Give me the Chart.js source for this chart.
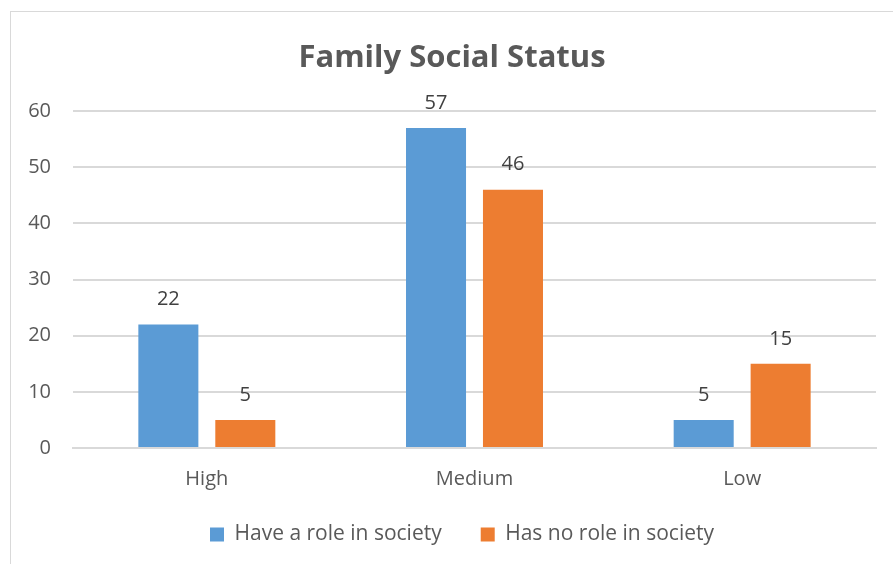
<!DOCTYPE html>
<html>
<head>
<meta charset="utf-8">
<script src="https://cdn.jsdelivr.net/npm/chart.js@4"></script>
<style>
  body { margin: 0; background: #fff; overflow: hidden; }
  #frame { position: absolute; left: 10px; top: 11px; width: 900px; height: 570px; border: 1px solid #d9d9d9; }
</style>
</head>
<body>
<div id="frame"><canvas id="myChart" width="900" height="570"></canvas></div>
<script>
const categories = ['High', 'Medium', 'Low'];
const haveRole = [22, 57, 5];
const noRole = [5, 46, 15];
const yTicks = [0, 10, 20, 30, 40, 50, 60];

const textColor = '#595959';
const fontFamily = "'Open Sans', 'Noto Sans', sans-serif";

// draw the value above every bar
const barLabels = {
    id: 'barLabels',
    afterDatasetsDraw(chart) {
        const c = chart.ctx;
        c.save();
        c.font = '20px ' + fontFamily;
        c.fillStyle = '#404040';
        c.textAlign = 'center';
        c.textBaseline = 'middle';
        chart.data.datasets.forEach((ds, i) => {
            chart.getDatasetMeta(i).data.forEach((bar, j) => {
                c.fillText(ds.data[j], bar.x, bar.y - 25);
            });
        });
        c.restore();
    }
};

// nudge the legend closer to the axis labels and a bit to the right
const legendShift = {
    id: 'legendShift',
    afterLayout(chart) {
        chart.legend.top -= 9;
        chart.legend.bottom -= 9;
        chart.legend.left += 10;
        chart.legend.right += 10;
    }
};

new Chart(document.getElementById('myChart'), {
    type: 'bar',
    data: {
        labels: categories,
        datasets: [{
            label: 'Have a role in society',
            data: haveRole,
            backgroundColor: '#5b9bd5',
            categoryPercentage: 0.575,
            barPercentage: 0.78
        }, {
            label: 'Has no role in society',
            data: noRole,
            backgroundColor: '#ed7d31',
            categoryPercentage: 0.575,
            barPercentage: 0.78
        }]
    },
    options: {
        responsive: false,
        animation: false,
        layout: { padding: { left: 17, right: 35, top: 28, bottom: 18 } },
        plugins: {
            title: {
                display: true,
                text: 'Family Social Status',
                color: textColor,
                font: { family: fontFamily, size: 31, weight: 'bold' },
                padding: { top: 0, bottom: 34 }
            },
            legend: {
                position: 'bottom',
                labels: {
                    color: textColor,
                    boxWidth: 14,
                    boxHeight: 14,
                    padding: 39,
                    font: { family: fontFamily, size: 21 }
                }
            },
            tooltip: { enabled: false }
        },
        scales: {
            x: {
                afterFit: axis => { axis.height = 46; },
                grid: { display: false, drawTicks: false },
                border: { color: '#d9d9d9', width: 2 },
                ticks: { color: textColor, padding: 19, font: { family: fontFamily, size: 20 } }
            },
            y: {
                min: 0,
                max: 60,
                afterBuildTicks: axis => { axis.ticks = yTicks.map(v => ({ value: v })); },
                afterFit: axis => { axis.width = 45; },
                grid: { color: '#d9d9d9', lineWidth: 2, drawTicks: false },
                border: { display: false },
                ticks: { color: textColor, padding: 22, font: { family: fontFamily, size: 20 } }
            }
        }
    },
    plugins: [barLabels, legendShift]
});
</script>
</body>
</html>
